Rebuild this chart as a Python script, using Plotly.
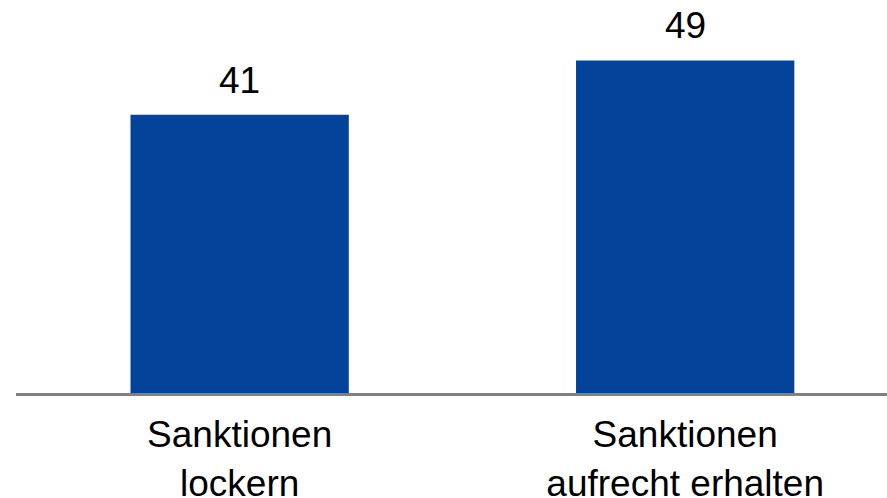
import plotly.graph_objects as go

categories = ["Sanktionen<br>lockern", "Sanktionen<br>aufrecht erhalten"]
values = [41, 49]

BAR_COLOR = "#03449A"
FONT = "Liberation Sans, Arial, sans-serif"

fig = go.Figure(go.Bar(
    x=[0, 1],
    y=values,
    width=0.49,
    marker=dict(color=BAR_COLOR, line=dict(width=0)),
    hoverinfo="skip",
))

# value labels above the bars
for i, v in enumerate(values):
    fig.add_annotation(x=i, y=v, text=str(v), showarrow=False,
                       yanchor="bottom", yshift=12,
                       font=dict(family=FONT, size=37, color="#000000"))

fig.update_layout(
    width=887,
    height=498,
    paper_bgcolor="#FFFFFF",
    plot_bgcolor="#FFFFFF",
    font=dict(family=FONT, size=37, color="#000000"),
    showlegend=False,
    margin=dict(l=16, r=0, t=0, b=105),
    xaxis=dict(
        range=[-0.502, 1.453],
        tickmode="array",
        tickvals=[0, 1],
        ticktext=categories,
        showgrid=False,
        zeroline=False,
        showline=True,
        linecolor="#808080",
        linewidth=3,
        ticks="outside",
        ticklen=7,
        tickcolor="rgba(0,0,0,0)",
        tickfont=dict(family=FONT, size=37, color="#000000"),
        automargin=False,
    ),
    yaxis=dict(
        range=[0, 57.9],
        visible=False,
        showgrid=False,
        zeroline=False,
    ),
)

# drop the default page margin so the figure sits at the window's corner
fig.write_html("out.html", config={"displayModeBar": False},
               post_script="document.body.style.margin='0';")
